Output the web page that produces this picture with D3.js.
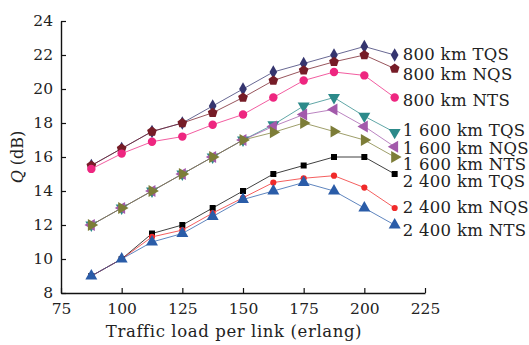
<!DOCTYPE html>
<html>
<head>
<meta charset="utf-8">
<script src="https://cdn.jsdelivr.net/npm/d3@7"></script>
<style>
  body { margin: 0; background: #fff; }
  svg { display: block; font-family: "DejaVu Serif", serif; }
</style>
</head>
<body>
<div id="chart"></div>
<script>
// ******************data******************************************
const loads = [87.5, 100, 112.5, 125, 137.5, 150, 162.5, 175, 187.5, 200, 212.5]

const tqs800 = [15.5, 16.5, 17.5, 18, 19, 20, 21, 21.5, 22, 22.5, 22]
const nqs800 = [15.5, 16.5, 17.5, 18, 18.6, 19.5, 20.5, 21.1, 21.6, 22, 21.2]
const nts800 = [15.3, 16.2, 16.9, 17.2, 17.9, 18.5, 19.5, 20.5, 21, 20.8, 19.5]
const tqs1600 = [12, 13, 14, 15, 16, 17, 17.9, 19, 19.5, 18.4, 17.45]
const nqs1600 = [12, 13, 14, 15, 16, 17, 17.8, 18.5, 18.8, 17.8, 16.6]
const nts1600 = [12, 13, 14, 15, 16, 17, 17.45, 18, 17.5, 17, 16]
const tqs2400 = [9, 10, 11.5, 12, 13, 14, 15, 15.5, 16, 16, 15]
const nqs2400 = [9, 10, 11.3, 11.7, 12.7, 13.6, 14.5, 14.75, 14.9, 14.2, 13]
const nts2400 = [9, 10, 11, 11.5, 12.5, 13.5, 14, 14.5, 14, 13, 12]

const seriesNames = ["800 km TQS", "800 km NQS", "800 km NTS",
	"1 600 km TQS", "1 600 km NQS", "1 600 km NTS",
	"2 400 km TQS", "2 400 km NQS", "2 400 km NTS"]

const xTicks = [75, 100, 125, 150, 175, 200, 225]
const yTicks = [8, 10, 12, 14, 16, 18, 20, 22, 24]

// *******************styles per series***********************
const styles = [
	{ color: "#35356f", shape: "diamond", size: 64, labelDy: 5 },
	{ color: "#761c27", shape: "pentagon", size: 62, labelDy: 11 },
	{ color: "#ee2680", shape: "circle", size: 56, labelDy: 8 },
	{ color: "#2c8a8a", shape: "triDown", size: 62, labelDy: 4 },
	{ color: "#a35aab", shape: "triLeft", size: 62, labelDy: 7 },
	{ color: "#7d7d38", shape: "triRight", size: 62, labelDy: 13 },
	{ color: "#000000", shape: "square", size: 36, labelDy: 13 },
	{ color: "#f02a2a", shape: "circle", size: 30, labelDy: 5 },
	{ color: "#2a5ca8", shape: "triUp", size: 62, labelDy: 11 }
]

const values = [tqs800, nqs800, nts800, tqs1600, nqs1600, nts1600, tqs2400, nqs2400, nts2400]

const width = 529
const height = 345
const margin = { top: 21, right: 104, bottom: 52, left: 61 }

const svg = d3.select("#chart")
	.append("svg")
	.attr("width", width)
	.attr("height", height)

svg.append("rect")
	.attr("width", width)
	.attr("height", height)
	.attr("fill", "#fff")

// **********************scales************************
const xScale = d3.scaleLinear()
	.domain([75, 225])
	.range([margin.left, width - margin.right])

const yScale = d3.scaleLinear()
	.domain([8, 24])
	.range([height - margin.bottom, margin.top])

// **********************X-axis**********************
const xAxis = svg.append("g")
	.attr("transform", "translate(0," + (height - margin.bottom) + ")")
	.call(d3.axisBottom(xScale).tickValues(xTicks).tickSizeInner(-5).tickSizeOuter(0).tickPadding(10))

xAxis.select(".domain").attr("stroke-width", 1.4).attr("stroke", "#111")
xAxis.selectAll(".tick line").attr("stroke", "#111").attr("stroke-width", 1.2)
xAxis.selectAll("text")
	.attr("font-family", "DejaVu Serif")
	.attr("font-size", 15.5)
	.attr("fill", "#222")

// *******************Y-axis********************
const yAxis = svg.append("g")
	.attr("transform", "translate(" + margin.left + ",0)")
	.call(d3.axisLeft(yScale).tickValues(yTicks).tickSizeInner(-5).tickSizeOuter(0).tickPadding(8))

yAxis.select(".domain").attr("stroke-width", 1.4).attr("stroke", "#111")
yAxis.selectAll(".tick line").attr("stroke", "#111").attr("stroke-width", 1.2)
yAxis.selectAll("text")
	.attr("font-family", "DejaVu Serif")
	.attr("font-size", 15.5)
	.attr("fill", "#222")

// axis titles
svg.append("text")
	.attr("x", 234)
	.attr("y", 337)
	.attr("text-anchor", "middle")
	.attr("font-size", 16.5)
	.attr("letter-spacing", 0.6)
	.attr("fill", "#222")
	.text("Traffic load per link (erlang)")

const yTitle = svg.append("text")
	.attr("transform", "translate(23," + ((margin.top + height - margin.bottom) / 2) + ") rotate(-90)")
	.attr("text-anchor", "middle")
	.attr("font-size", 16)
	.attr("fill", "#222")

yTitle.append("tspan").attr("font-style", "italic").text("Q")
yTitle.append("tspan").text(" (dB)")

// ********************marker shapes**********************
const pentagon = {
	draw(context, size) {
		const r = Math.sqrt(size / 2.38)
		for (let i = 0; i < 5; i++) {
			const a = -Math.PI / 2 + i * 2 * Math.PI / 5
			const x = r * Math.cos(a), y = r * Math.sin(a)
			if (i === 0) context.moveTo(x, y)
			else context.lineTo(x, y)
		}
		context.closePath()
	}
}

const markerPath = (shape, size) => {
	if (shape === "diamond") return d3.symbol(d3.symbolDiamond, size * 0.8)()
	if (shape === "pentagon") return d3.symbol(pentagon, size)()
	if (shape === "circle") return d3.symbol(d3.symbolCircle, size)()
	if (shape === "square") return d3.symbol(d3.symbolSquare, size)()
	return d3.symbol(d3.symbolTriangle, size)()
}

const markerRotate = (shape) => {
	if (shape === "triDown") return 180
	if (shape === "triLeft") return -90
	if (shape === "triRight") return 90
	return 0
}

const line = d3.line()
	.x((d) => xScale(d[0]))
	.y((d) => yScale(d[1]))

// *******************series, in legend order (later ones sit on top)*********************
values.forEach((vals, s) => {
	const st = styles[s]
	const pts = loads.map((x, i) => [x, vals[i]])
	const g = svg.append("g")

	g.append("path")
		.datum(pts)
		.attr("d", line)
		.attr("fill", "none")
		.attr("stroke", st.color)
		.attr("stroke-opacity", 0.75)
		.attr("stroke-width", 1)

	g.selectAll("path.mk")
		.data(pts)
		.enter()
		.append("path")
		.attr("class", "mk")
		.attr("d", markerPath(st.shape, st.size))
		.attr("transform", (d) => "translate(" + xScale(d[0]) + "," + yScale(d[1]) + ") rotate(" + markerRotate(st.shape) + ")")
		.attr("fill", st.color)
})

// ******************end labels********************
seriesNames.forEach((name, s) => {
	const last = values[s][values[s].length - 1]
	svg.append("text")
		.attr("x", xScale(loads[loads.length - 1]) + 8)
		.attr("y", yScale(last) + styles[s].labelDy)
		.attr("font-size", 16.5)
		.attr("letter-spacing", 0.3)
		.attr("fill", "#222")
		.text(name)
})
</script>
</body>
</html>
